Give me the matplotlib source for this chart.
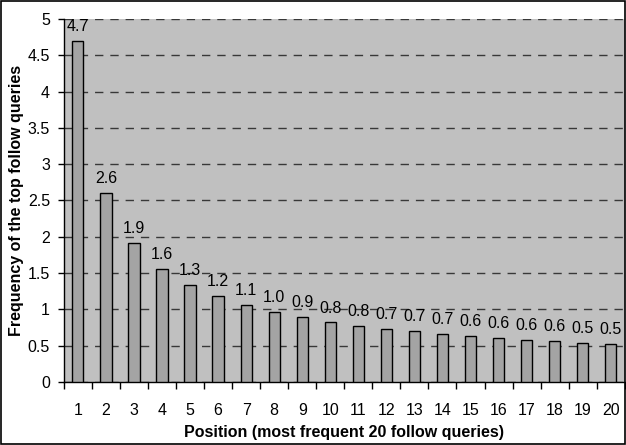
import matplotlib
matplotlib.use("Agg")
import matplotlib.pyplot as plt
from matplotlib.patches import Rectangle
import numpy as np

positions = list(range(1, 21))
values = [4.70, 2.61, 1.91, 1.56, 1.34, 1.18, 1.06, 0.97, 0.89, 0.82,
          0.77, 0.73, 0.70, 0.66, 0.63, 0.60, 0.58, 0.56, 0.54, 0.52]
y_ticks = [0, 0.5, 1, 1.5, 2, 2.5, 3, 3.5, 4, 4.5, 5]
y_tick_labels = ["0", "0.5", "1", "1.5", "2", "2.5", "3", "3.5", "4", "4.5", "5"]
xlabel = "Position (most frequent 20 follow queries)"
ylabel = "Frequency of the top follow queries"

plt.rcParams['font.family'] = ['Liberation Sans', 'DejaVu Sans']
FS = 11.5

fig = plt.figure(figsize=(6.26, 4.45), dpi=100)
ax = fig.add_axes([0.102, 0.1416, 0.896, 0.8157])
ax.set_facecolor('#C0C0C0')

ax.set_axisbelow(True)
ax.yaxis.grid(True, color='#383838', linestyle=(0, (6, 5)), linewidth=1.0)

ax.bar(positions, values, width=0.4, color='#A4A4A4', edgecolor='black', linewidth=1.0, zorder=3)

for x, v in zip(positions, values):
    ax.annotate(f"{v:.1f}", (x, v), xytext=(0, 5), textcoords='offset points',
                ha='center', va='bottom', fontsize=FS, zorder=4)

ax.set_xlim(0.5, 20.5)
ax.set_ylim(0, 5)
ax.set_yticks(y_ticks)
ax.set_yticklabels(y_tick_labels, fontsize=FS)
ax.set_xticks(positions)
ax.set_xticklabels([str(p) for p in positions], fontsize=FS)
ax.tick_params(axis='x', length=0, pad=15)
ax.set_xticks(np.arange(0.5, 21, 1), minor=True)
ax.tick_params(axis='x', which='minor', length=5, direction='out', width=1)
ax.tick_params(axis='y', length=4, direction='out', width=1, pad=6)

for s in ['top', 'right']:
    ax.spines[s].set_visible(False)
ax.spines['left'].set_linewidth(1.0)
ax.spines['bottom'].set_linewidth(1.0)

ax.set_xlabel(xlabel, fontsize=FS, fontweight='bold', labelpad=5)
ax.set_ylabel(ylabel, fontsize=FS, fontweight='bold', va='center')
ax.yaxis.set_label_coords(-0.085, 0.5)

fig.patches.append(Rectangle((0.0015, 0.002), 0.997, 0.996, transform=fig.transFigure,
                             fill=False, edgecolor='black', linewidth=1.2))

fig.savefig("out.png", dpi=100)
